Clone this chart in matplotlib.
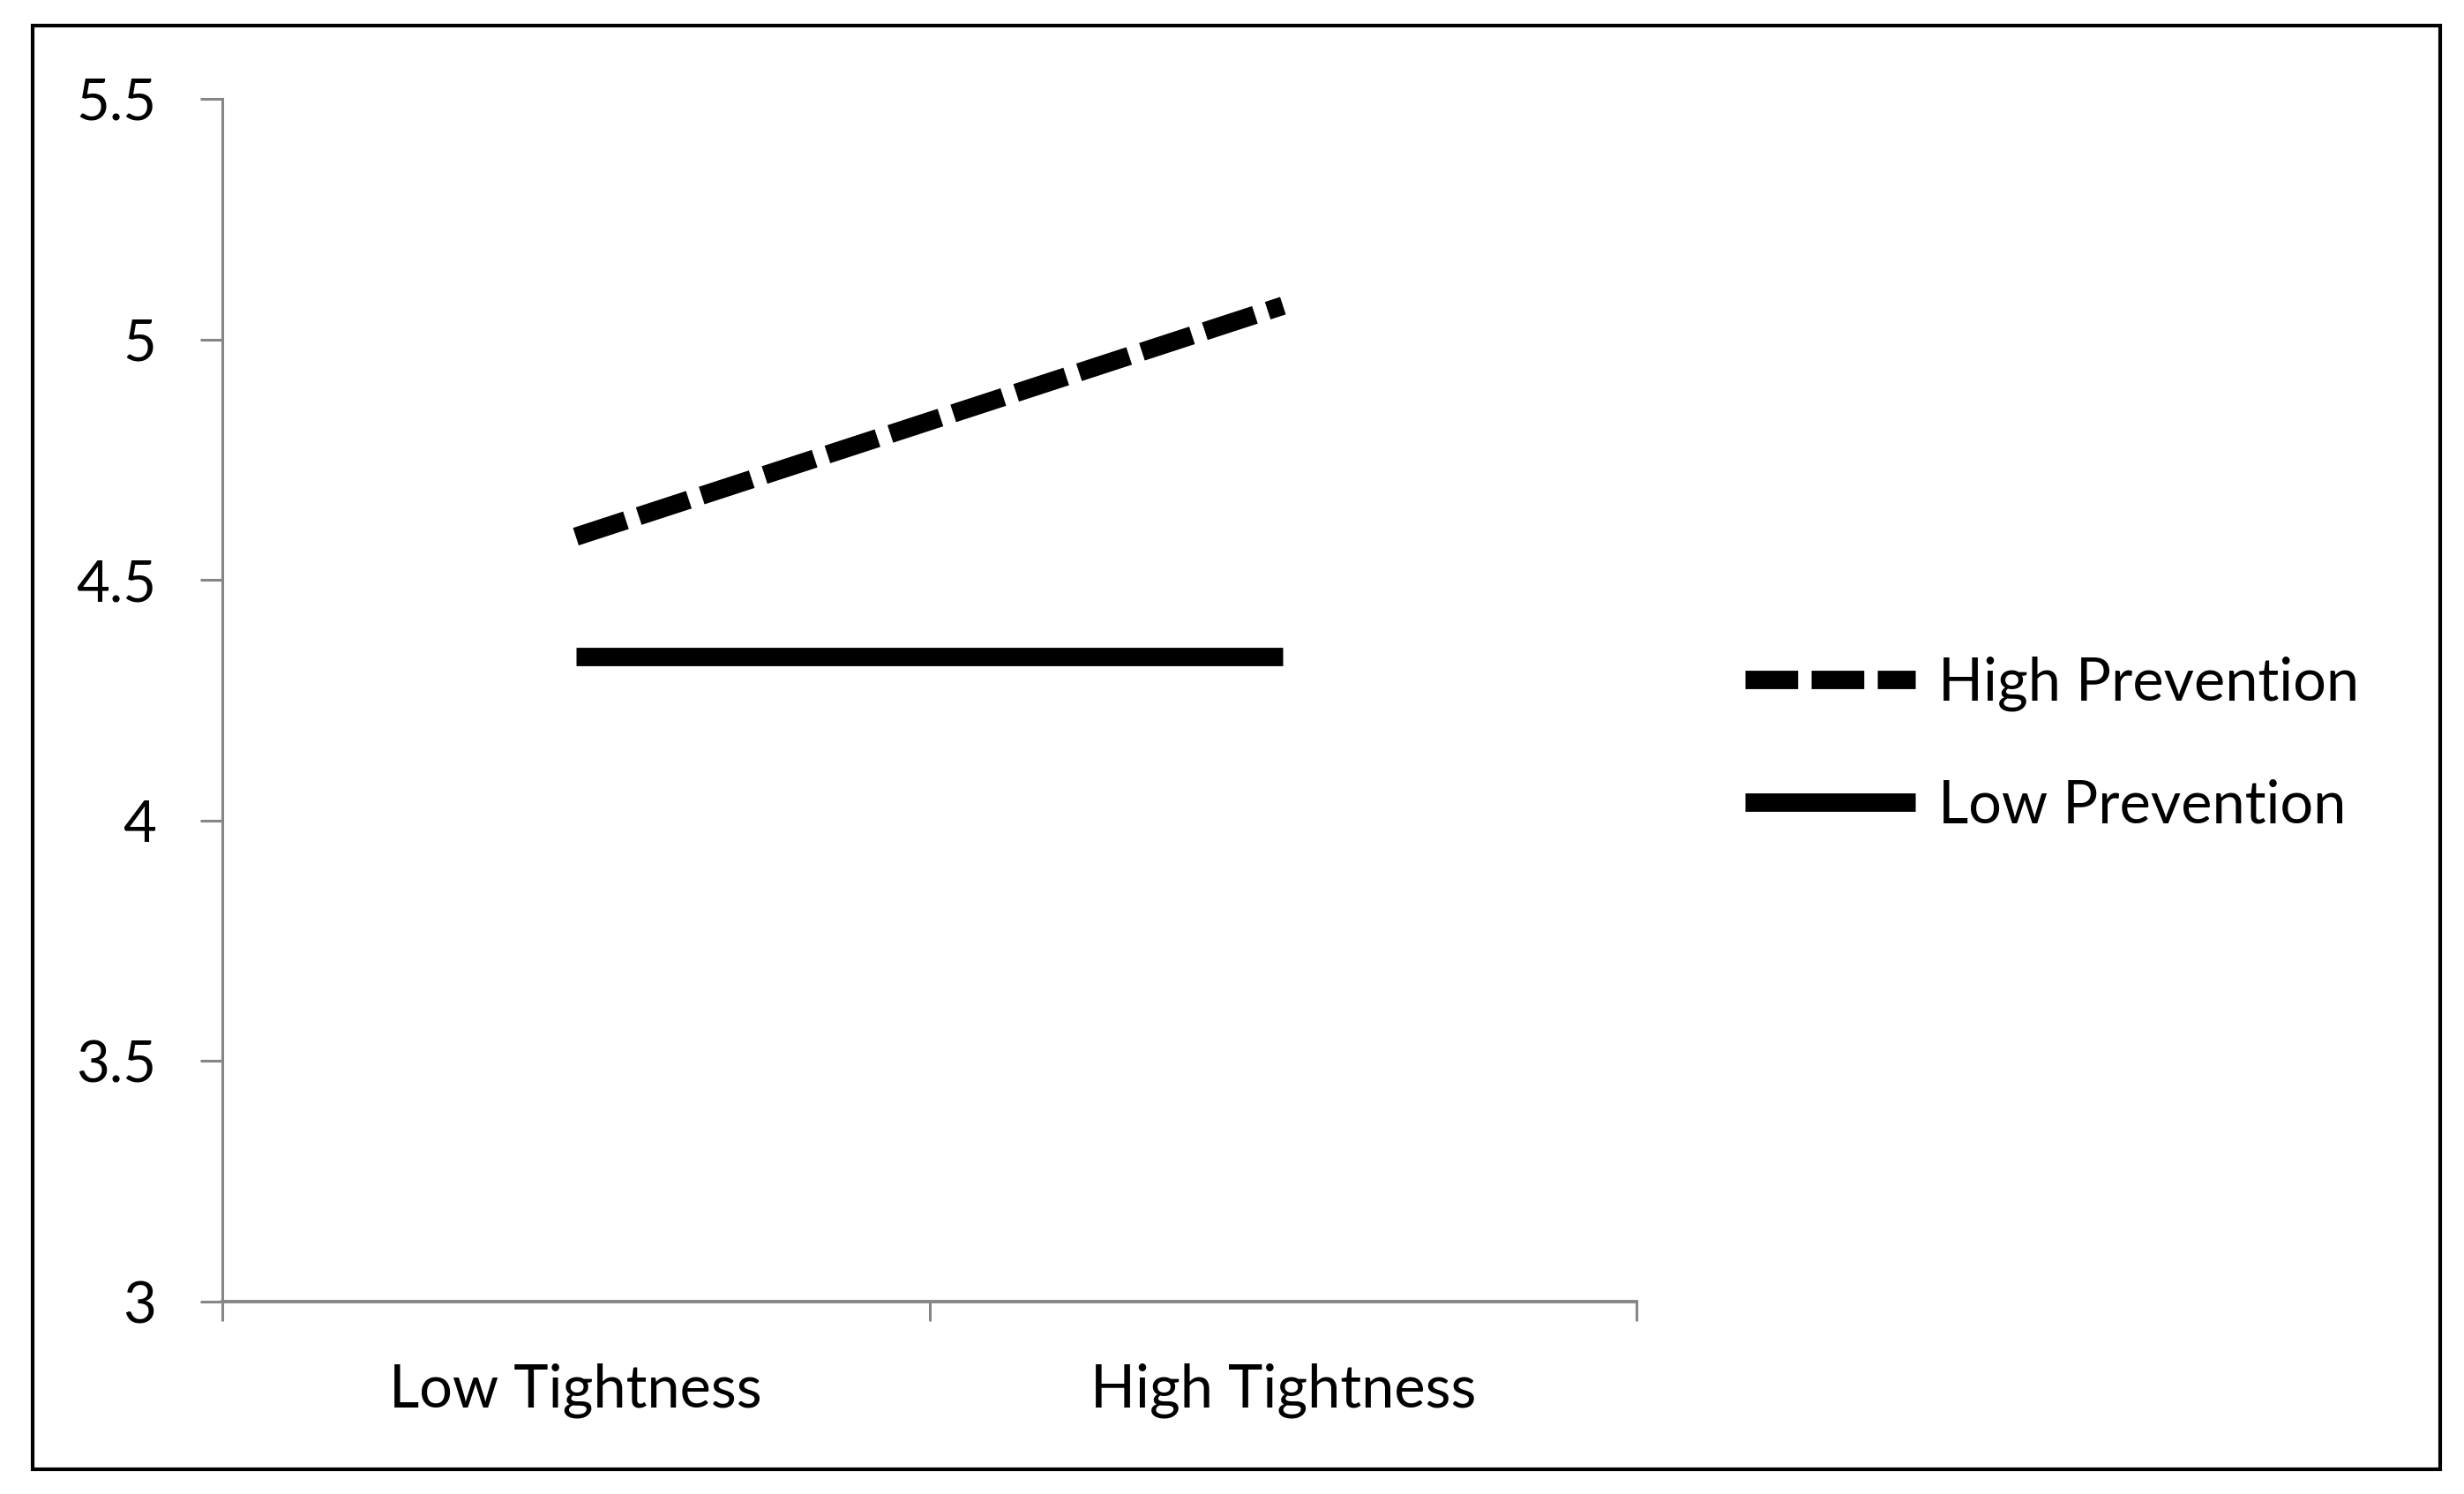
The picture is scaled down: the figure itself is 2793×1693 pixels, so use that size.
"""Interaction plot: tightness x prevention focus."""

import matplotlib
matplotlib.use("Agg")
import matplotlib.pyplot as plt
from matplotlib.patches import Rectangle

# ---------------------------------------------------------------------------
# Data
# ---------------------------------------------------------------------------
CATEGORIES = ["Low Tightness", "High Tightness"]
HIGH_PREVENTION = [4.59, 5.07]
LOW_PREVENTION = [4.34, 4.34]
SERIES_LABELS = ["High Prevention", "Low Prevention"]
Y_TICKS = [3, 3.5, 4, 4.5, 5, 5.5]
Y_TICK_LABELS = ["3", "3.5", "4", "4.5", "5", "5.5"]

AXIS_GREY = "#868686"
FONT = ["Lato", "DejaVu Sans"]

plt.rcParams["font.family"] = FONT
plt.rcParams["lines.scale_dashes"] = False

W, H, DPI = 2793, 1693, 100


def main() -> None:
    fig = plt.figure(figsize=(W / DPI, H / DPI), dpi=DPI)
    fig.patch.set_facecolor("white")

    # outer frame around the whole chart
    fig.add_artist(Rectangle((37 / W, 1 - 1665 / H), (2766 - 37) / W,
                             (1665 - 29) / H, transform=fig.transFigure,
                             fill=False, edgecolor="black", linewidth=3.0))

    ax = fig.add_axes([252 / W, 1 - 1475 / H, (1855 - 252) / W, (1475 - 112) / H])
    x = range(len(CATEGORIES))

    ax.plot(x, HIGH_PREVENTION, color="black", linewidth=15,
            dashes=(43, 11), dash_capstyle="butt", solid_capstyle="butt",
            label=SERIES_LABELS[0])
    ax.plot(x, LOW_PREVENTION, color="black", linewidth=15,
            solid_capstyle="butt", label=SERIES_LABELS[1])

    ax.set_xlim(-0.5, len(CATEGORIES) - 0.5)
    ax.set_ylim(3, 5.5)

    for side in ["top", "right"]:
        ax.spines[side].set_visible(False)
    ax.spines["left"].set_color(AXIS_GREY)
    ax.spines["left"].set_linewidth(2.2)
    ax.spines["bottom"].set_color(AXIS_GREY)
    ax.spines["bottom"].set_linewidth(2.8)

    ax.set_yticks(Y_TICKS)
    ax.set_yticklabels(Y_TICK_LABELS)
    ax.tick_params(axis="y", direction="out", length=18, width=2.2,
                   color=AXIS_GREY, pad=36, labelsize=47, labelcolor="black")

    ax.set_xticks(list(x))
    ax.set_xticklabels(CATEGORIES)
    ax.set_xticks([-0.5, 0.5, 1.5], minor=True)
    ax.tick_params(axis="x", which="major", length=0, pad=50,
                   labelsize=48, labelcolor="black")
    ax.tick_params(axis="x", which="minor", direction="out", length=16,
                   width=2.2, color=AXIS_GREY)

    fig.legend(loc="center left", bbox_to_anchor=(1978 / W, 1 - 844 / H),
               frameon=False, fontsize=48, handlelength=2.9,
               handletextpad=0.38, labelspacing=1.15, borderpad=0,
               borderaxespad=0)

    fig.savefig("out.png", dpi=DPI)
    plt.close(fig)


if __name__ == "__main__":
    main()
